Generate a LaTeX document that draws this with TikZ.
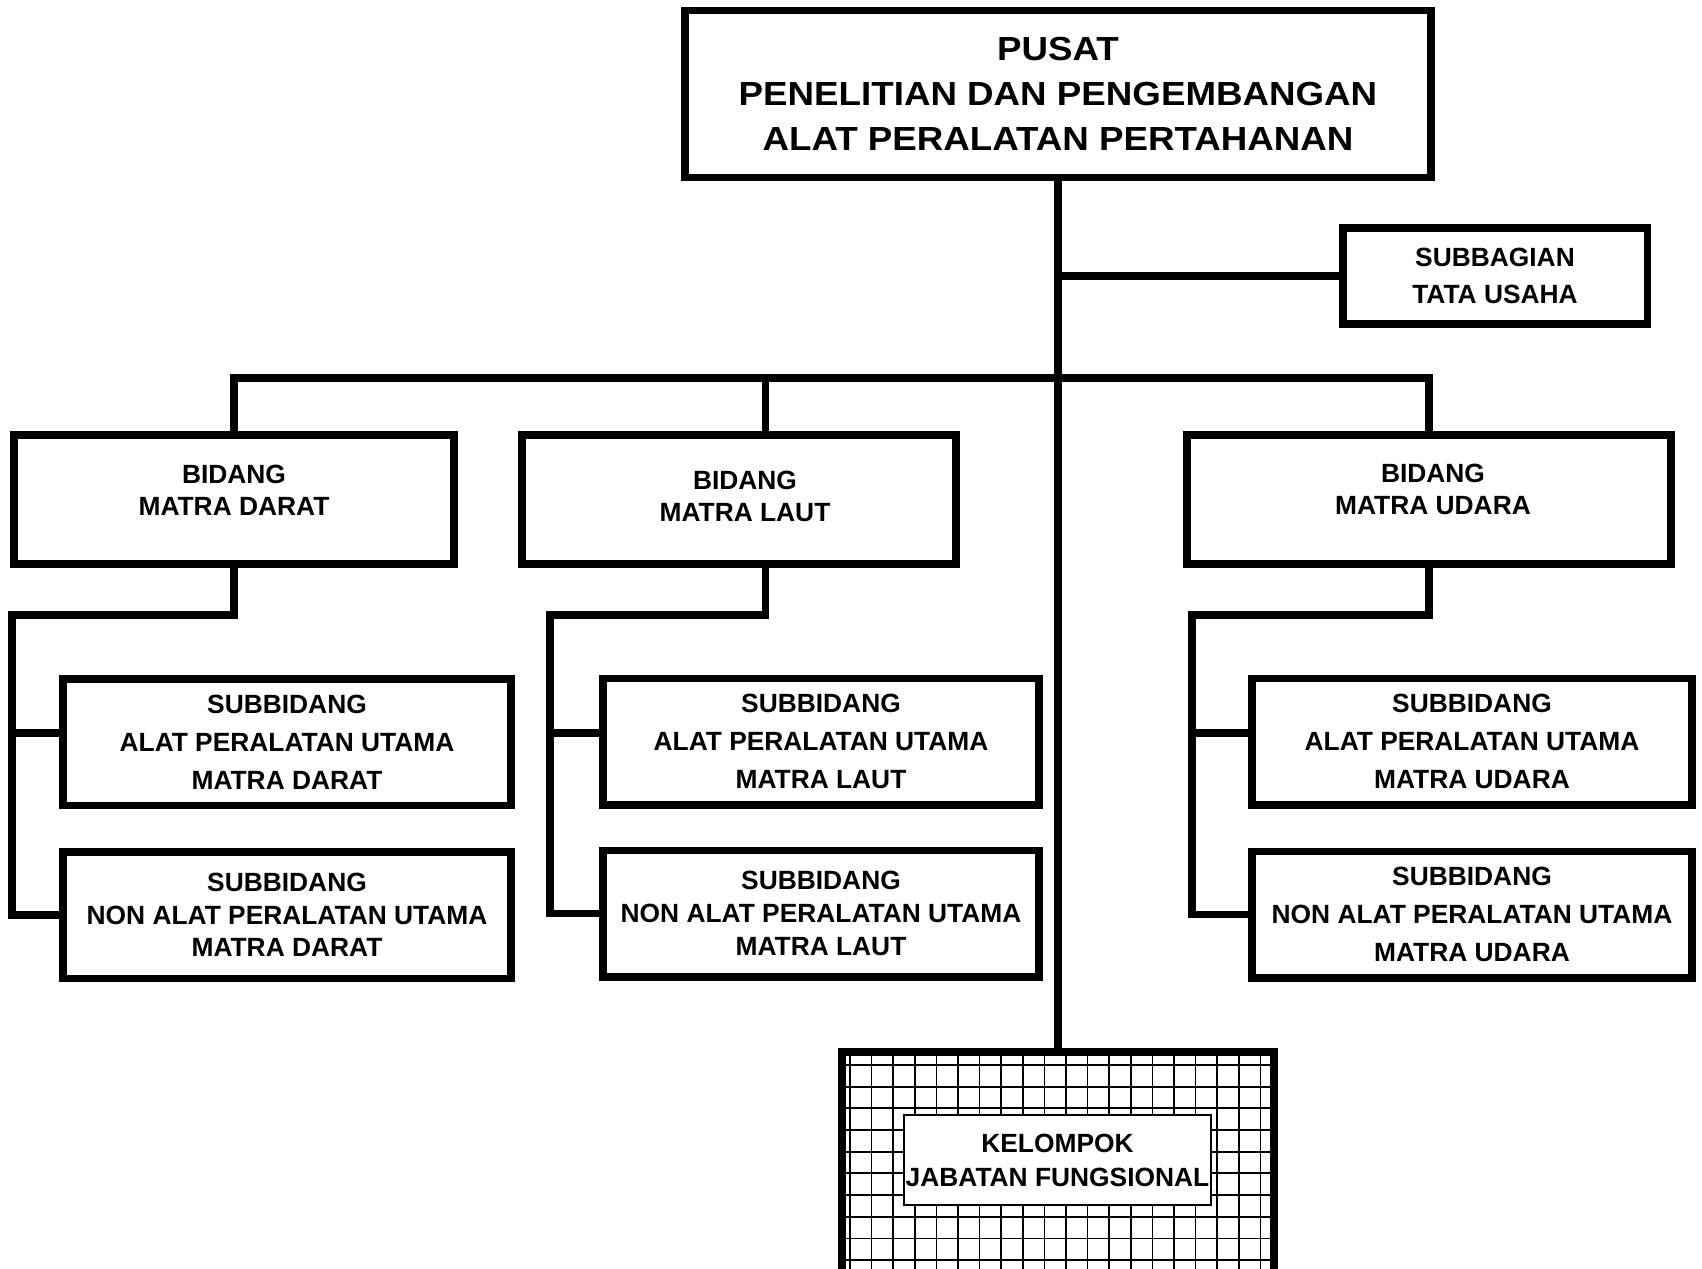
\documentclass[tikz,border=0pt]{standalone}
\usepackage{fontspec}
\setmainfont{Liberation Sans}
\newfontfamily\headfont{Liberation Sans}[FakeStretch=1.1]

\tikzset{
  box/.style={draw, line width=0.15cm, inner sep=0pt, align=center},
  link/.style={line width=0.15cm},
  lbl/.style={inner sep=0pt, align=center, font=\fontsize{15}{18.2}\selectfont\bfseries},
  alatbox/.style={box, minimum height=2.53cm, font=\fontsize{15}{21.6}\selectfont\bfseries},
  nonbox/.style={box, minimum height=2.53cm, font=\fontsize{15}{18.6}\selectfont\bfseries},
  gridline/.style={line width=0.035cm, black},
}

\begin{document}
\begin{tikzpicture}[x=0.02cm, y=-0.02cm]
  \useasboundingbox (0,0) rectangle (1702,1268);

  % top
  \node[box, minimum width=14.93cm, minimum height=3.35cm,
    font=\headfont\fontsize{19}{25.6}\selectfont\bfseries] (pusat) at (1058,94)
    {PUSAT\\PENELITIAN DAN PENGEMBANGAN\\ALAT PERALATAN PERTAHANAN};
  \node[box, minimum width=6.09cm, minimum height=1.93cm,
    font=\fontsize{15}{20.8}\selectfont\bfseries] (tu) at (1495,276)
    {SUBBAGIAN\\TATA USAHA};

  % bidang
  \node[box, minimum width=8.81cm, minimum height=2.59cm] (darat) at (234,499.5) {};
  \node[lbl] (darat-t) at (234,490) {BIDANG\\MATRA DARAT};
  \node[box, minimum width=8.69cm, minimum height=2.59cm] (laut) at (739,499.5) {};
  \node[lbl] (laut-t) at (745,496) {BIDANG\\MATRA LAUT};
  \node[box, minimum width=9.69cm, minimum height=2.59cm] (udara) at (1429,499.5) {};
  \node[lbl] (udara-t) at (1433,489) {BIDANG\\MATRA UDARA};

  % subbidang
  \node[alatbox, minimum width=8.97cm] (da1) at (287,742)
    {SUBBIDANG\\ALAT PERALATAN UTAMA\\MATRA DARAT};
  \node[nonbox, minimum width=8.97cm] (da2) at (287,915)
    {SUBBIDANG\\NON ALAT PERALATAN UTAMA\\MATRA DARAT};
  \node[alatbox, minimum width=8.73cm] (la1) at (821,741.5)
    {SUBBIDANG\\ALAT PERALATAN UTAMA\\MATRA LAUT};
  \node[nonbox, minimum width=8.73cm] (la2) at (821,913.5)
    {SUBBIDANG\\NON ALAT PERALATAN UTAMA\\MATRA LAUT};
  \node[alatbox, minimum width=8.81cm] (ud1) at (1472,741.5)
    {SUBBIDANG\\ALAT PERALATAN UTAMA\\MATRA UDARA};
  \node[alatbox, minimum width=8.81cm] (ud2) at (1472,914.5)
    {SUBBIDANG\\NON ALAT PERALATAN UTAMA\\MATRA UDARA};

  % kelompok jabatan fungsional
  \node[box, minimum width=8.65cm, minimum height=5cm] (jf) at (1058,1176.75) {};
  \begin{scope}
    \clip ([xshift=0.075cm,yshift=-0.075cm]jf.north west)
      rectangle ([xshift=-0.075cm,yshift=0.075cm]jf.south east);
    \foreach \i in {0,...,19}
      \draw[gridline] ({850+21.6*\i},1040) -- ++(0,260);
    \foreach \j in {0,...,10}
      \draw[gridline] (830,{1065+21.67*\j}) -- ++(460,0);
  \end{scope}
  \node[draw, line width=0.035cm, fill=white, inner sep=0pt, align=center,
    minimum width=6.14cm, minimum height=1.8cm,
    font=\fontsize{15}{19.4}\selectfont\bfseries] (kjf) at (1057.5,1160)
    {KELOMPOK\\JABATAN FUNGSIONAL};

  % connectors
  \coordinate (bus) at (1058,378);
  \draw[link] (pusat.south) -- (jf.north);
  \draw[link] (pusat.south |- tu.west) -- (tu.west);
  \draw[link] (darat.north) |- (bus) -| (udara.north);
  \coordinate (lautup) at ([xshift=0.53cm]laut.north);
  \draw[link] (lautup) -- (lautup |- bus);

  \coordinate (dtrunk) at (12,615);
  \coordinate (da1in) at ([yshift=0.18cm]da1.west);
  \draw[link] (darat.south) |- (dtrunk) |- (da2.west);
  \draw[link] (dtrunk |- da1in) -- (da1in);

  \coordinate (lautdn) at ([xshift=0.53cm]laut.south);
  \coordinate (ltrunk) at (550,615);
  \coordinate (la1in) at ([yshift=0.17cm]la1.west);
  \draw[link] (lautdn) |- (ltrunk) |- (la2.west);
  \draw[link] (ltrunk |- la1in) -- (la1in);

  \coordinate (utrunk) at (1192,615);
  \coordinate (ud1in) at ([yshift=0.17cm]ud1.west);
  \draw[link] (udara.south) |- (utrunk) |- (ud2.west);
  \draw[link] (utrunk |- ud1in) -- (ud1in);
\end{tikzpicture}
\end{document}
